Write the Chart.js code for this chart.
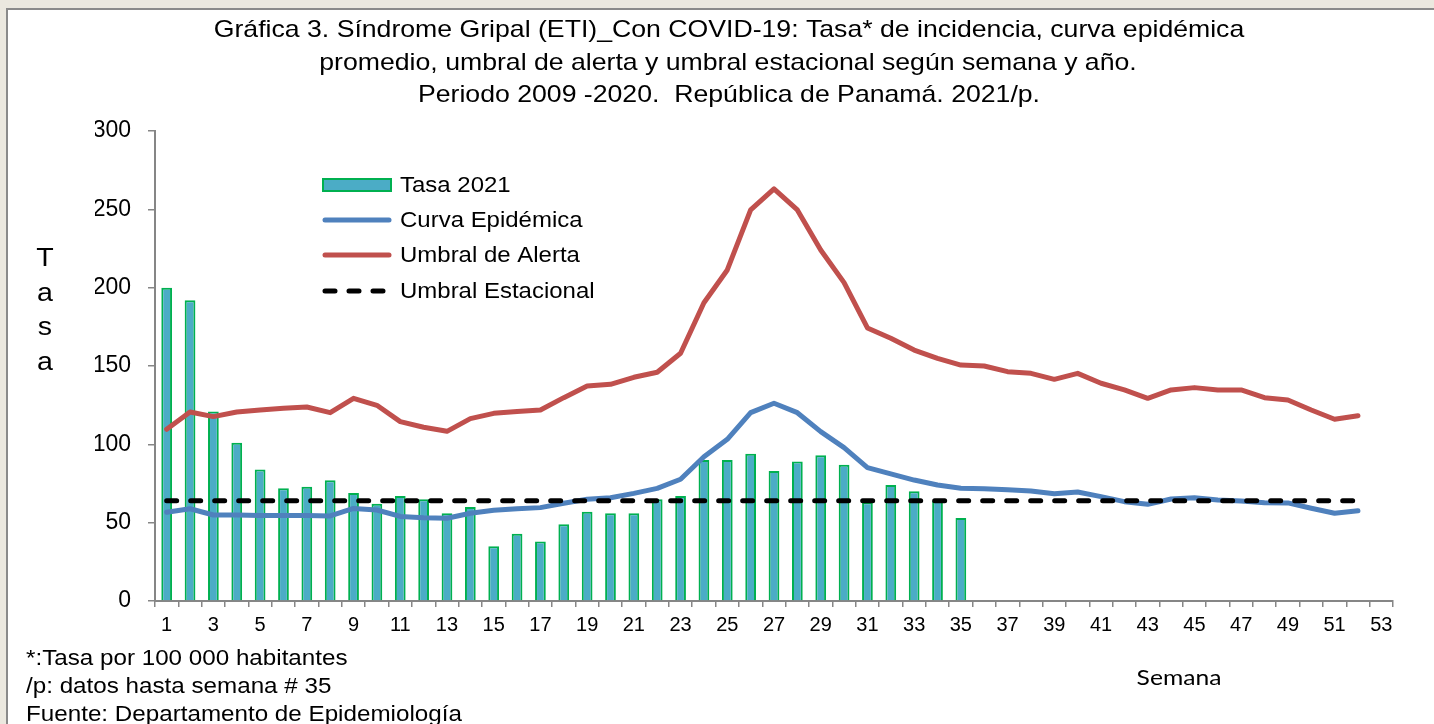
<!DOCTYPE html>
<html>
<head>
<meta charset="utf-8">
<script src="https://cdn.jsdelivr.net/npm/chart.js@4.4.1/dist/chart.umd.min.js"></script>
<style>
  html, body { margin: 0; padding: 0; background: #ebe8df; }
  body { width: 1434px; height: 724px; position: relative; overflow: hidden; }
  .frame {
    position: absolute; left: 6px; top: 8px; right: 0; bottom: 0;
    background: #fff;
    border-left: 2px solid #8a8a8a;
    border-top: 2px solid #8a8a8a;
  }
  #chart { position: absolute; left: 0; top: 0; }
</style>
</head>
<body>
<div class="frame"></div>
<canvas id="chart" width="1434" height="724"></canvas>
<script>
// Semana epidemiologica 1..53
const semanas = [];
for (let i = 1; i <= 53; i++) semanas.push(String(i));

// Tasa 2021 (hasta semana 35)
const tasa2021 = [
  200, 192, 121, 101, 84, 72, 73, 77, 69, 62,
  67, 65, 56, 60, 35, 43, 38, 49, 57, 56,
  56, 65, 67, 90, 90, 94, 83, 89, 93, 87,
  63, 74, 70, 64, 53
];

// Curva epidemica promedio 2009-2020
const curvaEpidemica = [
  56.6, 58.9, 54.9, 54.9, 54.5, 54.5, 54.5, 54.3, 59.1, 58.1,
  54.0, 53.2, 52.8, 56.0, 57.9, 58.9, 59.6, 62.4, 64.9, 65.9,
  68.7, 71.9, 77.7, 92.1, 103.2, 120.2, 126.2, 120.2, 108.1, 97.9,
  85.1, 81.1, 77.2, 74.0, 72.0, 71.7, 71.0, 70.2, 68.5, 69.6,
  66.6, 63.4, 61.7, 65.1, 65.9, 64.5, 63.8, 62.7, 62.6, 59.2,
  56.0, 57.6
];

const umbralAlerta = [
  109.6, 120.6, 117.7, 120.6, 121.9, 123.0, 123.8, 120.2, 129.4, 124.9,
  114.5, 110.9, 108.3, 116.4, 119.8, 120.9, 121.9, 129.8, 137.2, 138.3,
  142.8, 146.0, 158.1, 190.4, 211.3, 249.6, 263.0, 249.6, 224.0, 203.2,
  174.3, 167.7, 160.2, 154.9, 150.6, 150.0, 146.4, 145.3, 141.5, 145.3,
  139.0, 134.7, 129.4, 134.7, 136.2, 134.7, 134.7, 129.8, 128.3, 121.9,
  116.0, 118.3
];

const umbralEstacional = [
  64, 64, 64, 64, 64, 64, 64, 64, 64, 64,
  64, 64, 64, 64, 64, 64, 64, 64, 64, 64,
  64, 64, 64, 64, 64, 64, 64, 64, 64, 64,
  64, 64, 64, 64, 64, 64, 64, 64, 64, 64,
  64, 64, 64, 64, 64, 64, 64, 64, 64, 64,
  64, 64
];

const titleLines = [
  'Gráfica 3. Síndrome Gripal (ETI)_Con COVID-19: Tasa* de incidencia, curva epidémica',
  'promedio, umbral de alerta y umbral estacional según semana y año.',
  'Periodo 2009 -2020.  República de Panamá. 2021/p.'
];
const footLines = [
  '*:Tasa por 100 000 habitantes',
  '/p: datos hasta semana # 35',
  'Fuente: Departamento de Epidemiología'
];
const legendNames = ['Tasa 2021', 'Curva Epidémica', 'Umbral de Alerta', 'Umbral Estacional'];

const ARIAL = "'Liberation Sans', Arial, sans-serif";
const BAR_FILL = '#4bacc6';
const BAR_EDGE = '#00b050';
const BLUE = '#4f81bd';
const RED = '#c0504d';
const AXIS = '#868686';

// the original picture is a bit stretched sideways, so text gets a small x scale
function wideText(ctx, text, x, y, sx) {
  ctx.save();
  ctx.translate(x, y);
  ctx.scale(sx, 1);
  ctx.fillText(text, 0, 0);
  ctx.restore();
}

const textPlugin = {
  id: 'texts',
  afterDraw(chart) {
    const ctx = chart.ctx;
    ctx.save();
    ctx.fillStyle = '#000';
    ctx.textBaseline = 'alphabetic';

    ctx.font = '24px ' + ARIAL;
    ctx.textAlign = 'center';
    wideText(ctx, titleLines[0], 729, 37, 1.11);
    wideText(ctx, titleLines[1], 728, 69.5, 1.11);
    wideText(ctx, titleLines[2], 729, 102, 1.11);

    // vertical "Tasa"
    ctx.font = '26px ' + ARIAL;
    ['T', 'a', 's', 'a'].forEach((c, i) => wideText(ctx, c, 45, 266 + i * 34.5, 1.1));

    ctx.font = '22px Lato, sans-serif';
    wideText(ctx, 'Semana', 1179, 685, 1.12);

    ctx.font = '22px ' + ARIAL;
    ctx.textAlign = 'left';
    footLines.forEach((t, i) => wideText(ctx, t, 26, 665 + i * 28, 1.1));

    // legend
    const x0 = 323, x1 = 391;
    const rows = [185, 220, 255, 291];
    ctx.font = '22px ' + ARIAL;
    ctx.textBaseline = 'middle';
    legendNames.forEach((n, i) => {
      const y = rows[i];
      ctx.save();
      if (i === 0) {
        ctx.fillStyle = BAR_FILL;
        ctx.strokeStyle = BAR_EDGE;
        ctx.lineWidth = 2;
        ctx.fillRect(x0, y - 6, x1 - x0, 12);
        ctx.strokeRect(x0, y - 6, x1 - x0, 12);
      } else {
        ctx.lineWidth = 5;
        ctx.lineCap = 'round';
        ctx.strokeStyle = i === 1 ? BLUE : (i === 2 ? RED : '#000');
        if (i === 3) ctx.setLineDash([10, 14]);
        ctx.beginPath();
        ctx.moveTo(x0 + 2, y);
        ctx.lineTo(i === 3 ? x1 - 4 : x1 - 2, y);
        ctx.stroke();
      }
      ctx.restore();
      wideText(ctx, n, 400, y + 1, 1.09);
    });
    ctx.restore();
  }
};

new Chart(document.getElementById('chart'), {
  type: 'bar',
  data: {
    labels: semanas,
    datasets: [
      {
        type: 'line',
        label: 'Umbral Estacional',
        data: umbralEstacional,
        borderColor: '#000',
        borderWidth: 5,
        borderDash: [10, 14],
        borderCapStyle: 'round',
        pointRadius: 0,
        tension: 0,
        order: 1
      },
      {
        type: 'line',
        label: 'Curva Epidémica',
        data: curvaEpidemica,
        borderColor: BLUE,
        borderWidth: 5,
        borderJoinStyle: 'round',
        borderCapStyle: 'round',
        pointRadius: 0,
        tension: 0,
        order: 2
      },
      {
        type: 'line',
        label: 'Umbral de Alerta',
        data: umbralAlerta,
        borderColor: RED,
        borderWidth: 5,
        borderJoinStyle: 'round',
        borderCapStyle: 'round',
        pointRadius: 0,
        tension: 0,
        order: 3
      },
      {
        label: 'Tasa 2021',
        data: tasa2021,
        backgroundColor: BAR_FILL,
        borderColor: BAR_EDGE,
        borderWidth: 2,
        barPercentage: 0.46,
        categoryPercentage: 1,
        order: 4
      }
    ]
  },
  options: {
    responsive: false,
    animation: false,
    layout: { padding: { left: 95, right: 41, top: 131, bottom: 93 } },
    plugins: {
      legend: { display: false },
      title: { display: false },
      tooltip: { enabled: false }
    },
    scales: {
      x: {
        offset: true,
        afterFit(scale) { scale.height = 30; },
        border: { display: true, color: AXIS, width: 2 },
        grid: { offset: true, drawOnChartArea: false, drawTicks: true, tickLength: 6, color: AXIS, lineWidth: 1.5 },
        ticks: {
          autoSkip: false,
          maxRotation: 0,
          padding: 6,
          color: '#000',
          font: { family: ARIAL, size: 20 },
          callback: function(val, idx) {
            return idx % 2 === 0 ? this.getLabelForValue(val) : '';
          }
        }
      },
      y: {
        min: 0,
        max: 300,
        afterFit(scale) { scale.width = 60; },
        border: { display: true, color: AXIS, width: 2 },
        grid: { drawOnChartArea: false, drawTicks: true, tickLength: 7, color: AXIS, lineWidth: 1.5 },
        ticks: {
          stepSize: 50,
          padding: 17,
          color: '#000',
          font: { family: ARIAL, size: 23 }
        }
      }
    }
  },
  plugins: [textPlugin]
});
</script>
</body>
</html>
